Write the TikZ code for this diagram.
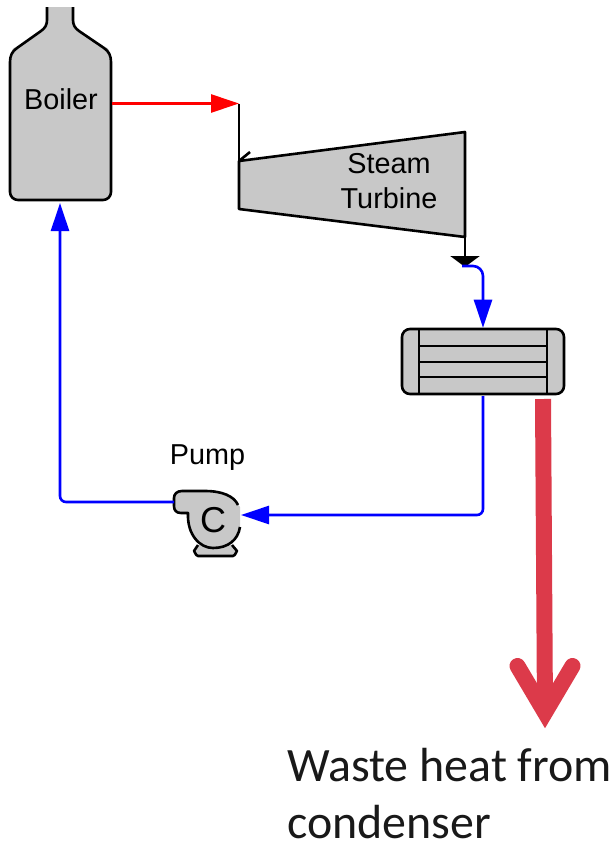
\documentclass[tikz,border=0pt]{standalone}
\usepackage{fontspec}
\setmainfont{Liberation Sans}
\newfontfamily\notefont{Carlito}
\usetikzlibrary{arrows.meta, positioning}
\definecolor{unitgray}{RGB}{200,200,200}
\definecolor{heatred}{RGB}{220,58,74}
\definecolor{notegray}{RGB}{25,25,25}
\tikzset{
  unit/.style={fill=unitgray, draw=black, line width=2.6pt, line join=round},
  unitfill/.style={fill=unitgray, draw=none},
  unitline/.style={draw=black, line width=2.6pt, line join=round},
  condbox/.style={
    rectangle, rounded corners=8pt, draw=black, line width=2.6pt,
    fill=unitgray, minimum width=162pt, minimum height=65pt, inner sep=0pt
  },
  unitlabel/.style={font=\fontsize{28.8}{34}\selectfont, text=black, inner sep=0pt},
  notelabel/.style={font=\notefont\fontsize{47.9}{57}\selectfont, align=left, inner sep=0pt, text=notegray},
  steamflow/.style={-{Triangle[length=28pt,width=18pt]}, line width=2.6pt, draw=red},
  waterflow/.style={-{Triangle[length=28pt,width=18pt]}, line width=2.6pt, draw=blue},
  outletflow/.style={-{Triangle[length=11pt,width=29pt]}, line width=2.6pt, draw=black},
  heatflow/.style={line width=16pt, draw=heatred}
}
\begin{document}
\begin{tikzpicture}[x=1pt, y=-1pt]
\useasboundingbox (0,0) rectangle (615,844);

% -------- BOILER --------
\fill[unitfill] (47,7) -- (47,20) to[out=90,in=-35] (41,31) -- (17,48) to[out=145,in=90] (10,62)
  -- (10,192) to[out=-90,in=180] (18,200) -- (103,200) to[out=0,in=-90] (111,192)
  -- (111,62) to[out=90,in=35] (104,48) -- (79,31) to[out=-145,in=90] (73,20) -- (73,7) -- cycle;
\draw[unitline] (47,7) -- (47,20) to[out=-90,in=35] (41,31) -- (17,48) to[out=-145,in=90] (10,62)
  -- (10,192) to[out=-90,in=180] (18,200) -- (103,200) to[out=0,in=-90] (111,192)
  -- (111,62) to[out=90,in=-35] (104,48) -- (79,31) to[out=145,in=-90] (73,20) -- (73,7);
\node[unitlabel] (boilertext) at (61,99) {Boiler};
\coordinate (boilerout) at (112,103.5);
\coordinate (boilerin) at (60,203);

% -------- TURBINE --------
\draw[unit] (239,161) -- (465,132) -- (465,237) -- (239,209) -- cycle;
\coordinate (turbtop) at (239,103.5);
\coordinate (turbcase) at (239,209);
\coordinate (turbtick) at (250,152);
\coordinate (turbedge) at (239,161);
\coordinate (turbcorner) at (465,237);
\coordinate (turbout) at (465,267);
\draw[unitline] (turbtop) -- (turbcase);
\draw[unitline] (turbedge) -- (turbtick);
\node[unitlabel] (steamtext) at (389,164) {Steam};
\node[unitlabel] (turbinetext) at (389,198) {Turbine};

% -------- CONDENSER --------
\node[condbox] (cond) at (483,361.5) {};
\foreach \yy in {346,362,377}
  \draw[unitline] (419,\yy) -- (547,\yy);
\foreach \xx in {419,547}
  \draw[unitline] (\xx,329) -- (\xx,394);
\coordinate (condout) at (483,396);

% -------- PUMP --------
\draw[unit] (198,545) -- (194,551) to[out=100,in=180] (198,556) -- (233,556) to[out=0,in=80] (237,551) -- (232,545);
\fill[unitfill] (240,527) .. controls (238,540) and (228,548) .. (213,548)
  .. controls (200,548) and (187,535) .. (188,513) -- (181,513)
  .. controls (176,513) and (174,510) .. (174,506) -- (174,498)
  .. controls (174,494) and (177,491) .. (182,491) -- (205,491)
  .. controls (222,491) and (234,496) .. (240,507) -- cycle;
\draw[unitline] (240,527) .. controls (238,540) and (228,548) .. (213,548)
  .. controls (200,548) and (187,535) .. (188,513) -- (181,513)
  .. controls (176,513) and (174,510) .. (174,506) -- (174,498)
  .. controls (174,494) and (177,491) .. (182,491) -- (205,491)
  .. controls (222,491) and (234,496) .. (238,505);
\node[font=\fontsize{36}{36}\selectfont, inner sep=0pt] (pumpc) at (213,520) {C};
\node[unitlabel] (pumptext) at (207.5,458) {Pump};
\coordinate (pumpin) at (241,515);
\coordinate (pumpout) at (174,502);

% -------- FLOWS --------
\draw[steamflow] (boilerout) -- (turbtop);
\draw[outletflow] (turbcorner) -- (turbout);
\draw[waterflow, rounded corners=10pt] (462,266) -- (483,266) -- (cond.north);
\draw[waterflow, rounded corners=6pt] (condout) |- (pumpin);
\draw[waterflow, rounded corners=6pt] (pumpout) -| (boilerin);

% -------- WASTE HEAT --------
\coordinate (heattop) at (543,399);
\coordinate (heattip) at (545,712.5);
\coordinate (heatleft) at (517.5,666);
\coordinate (heatright) at (572.5,666);
\draw[heatflow] (heattop) -- (heattip);
\draw[heatflow, line cap=round, miter limit=10] (heatleft) -- (heattip) -- (heatright);
\node[notelabel, anchor=north west] (wastetext) at (287,748) {Waste heat from\\condenser};

\end{tikzpicture}
\end{document}
